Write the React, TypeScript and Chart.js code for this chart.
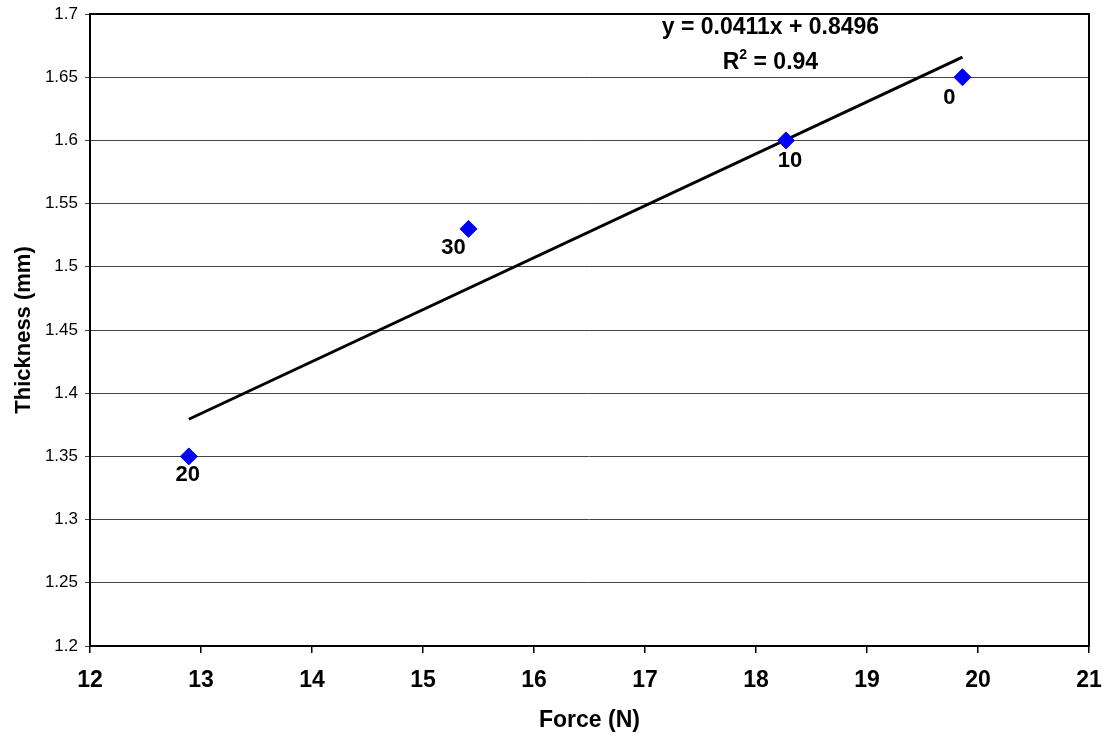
import React, { useEffect, useRef } from "react";
import { Chart, registerables } from "chart.js";

Chart.register(...registerables);

const forceN = [12.89, 15.41, 18.27, 19.86];
const thicknessMm = [1.35, 1.53, 1.6, 1.65];
const pointLabels = ["20", "30", "10", "0"];
const trendSlope = 0.0411;
const trendIntercept = 0.8496;
const trendEquation = "y = 0.0411x + 0.8496";
const trendR2 = "0.94";
const xTicks = [12, 13, 14, 15, 16, 17, 18, 19, 20, 21];
const yTicks = [1.2, 1.25, 1.3, 1.35, 1.4, 1.45, 1.5, 1.55, 1.6, 1.65, 1.7];

const FONT = "'Liberation Sans', Arial, sans-serif";
// label offsets (dx, dy) relative to each point, styling only
const labelOffsets = [
  [-1, 19],
  [-15, 19],
  [4, 21],
  [-13, 21],
];

const zeroPad = (s: any) => {
  s.paddingTop = 0;
  s.paddingBottom = 0;
  s.paddingLeft = 0;
  s.paddingRight = 0;
};

const overlayPlugin = {
  id: "overlay",
  beforeDatasetsDraw(chart: any) {
    const { ctx, chartArea } = chart;
    ctx.save();
    ctx.strokeStyle = "#000";
    ctx.lineWidth = 2;
    ctx.strokeRect(chartArea.left, chartArea.top, chartArea.right - chartArea.left, chartArea.bottom - chartArea.top);
    ctx.restore();
  },
  afterDatasetsDraw(chart: any) {
    const { ctx } = chart;
    const xs = chart.scales.x;
    const ys = chart.scales.y;
    ctx.save();
    ctx.fillStyle = "#000";
    ctx.font = `bold 22px ${FONT}`;
    ctx.textAlign = "center";
    ctx.textBaseline = "middle";
    forceN.forEach((fx, i) => {
      const px = xs.getPixelForValue(fx) + labelOffsets[i][0];
      const py = ys.getPixelForValue(thicknessMm[i]) + labelOffsets[i][1];
      ctx.fillText(pointLabels[i], px, py);
    });
    // trendline equation
    ctx.font = `bold 23px ${FONT}`;
    const cx = xs.getPixelForValue(18.13);
    const y1 = ys.getPixelForValue(1.6895);
    ctx.fillText(trendEquation, cx, y1);
    const y2 = ys.getPixelForValue(1.6615);
    const r = "R";
    const rest = " = " + trendR2;
    const wR = ctx.measureText(r).width;
    ctx.font = `bold 14px ${FONT}`;
    const wS = ctx.measureText("2").width;
    ctx.font = `bold 23px ${FONT}`;
    const wRest = ctx.measureText(rest).width;
    const total = wR + wS + wRest;
    let sx = cx - total / 2;
    ctx.textAlign = "left";
    ctx.fillText(r, sx, y2);
    sx += wR;
    ctx.font = `bold 14px ${FONT}`;
    ctx.fillText("2", sx, y2 - 8);
    sx += wS;
    ctx.font = `bold 23px ${FONT}`;
    ctx.fillText(rest, sx, y2);
    ctx.restore();
  },
};

export default function App() {
  const ref = useRef<HTMLCanvasElement>(null);
  useEffect(() => {
    const canvas = ref.current!;
    const xMin = Math.min(...forceN);
    const xMax = Math.max(...forceN);
    const trend = [
      { x: xMin, y: trendSlope * xMin + trendIntercept },
      { x: xMax, y: trendSlope * xMax + trendIntercept },
    ];
    const chart = new Chart(canvas, {
      type: "scatter",
      data: {
        datasets: [
          {
            type: "line",
            data: trend,
            borderColor: "#000",
            borderWidth: 3,
            pointRadius: 0,
            fill: false,
            order: 2,
          } as any,
          {
            data: forceN.map((x, i) => ({ x, y: thicknessMm[i] })),
            backgroundColor: "#0000ff",
            borderColor: "#0000ff",
            borderWidth: 1,
            pointStyle: "rectRot",
            pointRadius: 8.5,
            order: 1,
          },
        ],
      },
      options: {
        animation: false,
        responsive: false,
        maintainAspectRatio: false,
        layout: { padding: { top: 14, right: 19, left: 0, bottom: 0 } },
        plugins: { legend: { display: false }, tooltip: { enabled: false } },
        scales: {
          x: {
            type: "linear",
            min: 12,
            max: 21,
            afterBuildTicks: (s: any) => {
              s.ticks = xTicks.map((v) => ({ value: v }));
            },
            afterFit: (s: any) => {
              s.height = 94;
              zeroPad(s);
            },
            grid: {
              drawOnChartArea: false,
              color: "#000",
              tickLength: 7,
              lineWidth: 1.5,
            },
            border: { display: false },
            ticks: {
              color: "#000",
              font: { family: FONT, size: 23, weight: "bold" },
              padding: 14,
              maxRotation: 0,
              autoSkip: false,
              callback: (v: any) => String(v),
            },
            title: {
              display: true,
              text: "Force (N)",
              color: "#000",
              font: { family: FONT, size: 23, weight: "bold" },
              padding: { top: 0, bottom: 6 },
            },
          },
          y: {
            type: "linear",
            min: 1.2,
            max: 1.7,
            afterBuildTicks: (s: any) => {
              s.ticks = yTicks.map((v) => ({ value: v }));
            },
            afterFit: (s: any) => {
              s.width = 90;
              zeroPad(s);
            },
            grid: {
              color: "#444",
              tickLength: 5,
              lineWidth: 1,
            },
            border: { display: false },
            ticks: {
              color: "#000",
              font: { family: FONT, size: 17 },
              padding: 7,
              autoSkip: false,
              callback: (v: any) => String(Number(Number(v).toFixed(2))),
            },
            title: {
              display: true,
              text: "Thickness (mm)",
              color: "#000",
              font: { family: FONT, size: 22, weight: "bold" },
              padding: { top: 11, bottom: 0 },
            },
          },
        },
      },
      plugins: [overlayPlugin],
    });
    return () => chart.destroy();
  }, []);
  return (
    <div style={{ position: "fixed", left: 0, top: 0, width: 1108, height: 740, background: "#fff" }}>
      <canvas ref={ref} width={1108} height={740} style={{ display: "block", width: 1108, height: 740 }} />
    </div>
  );
}
